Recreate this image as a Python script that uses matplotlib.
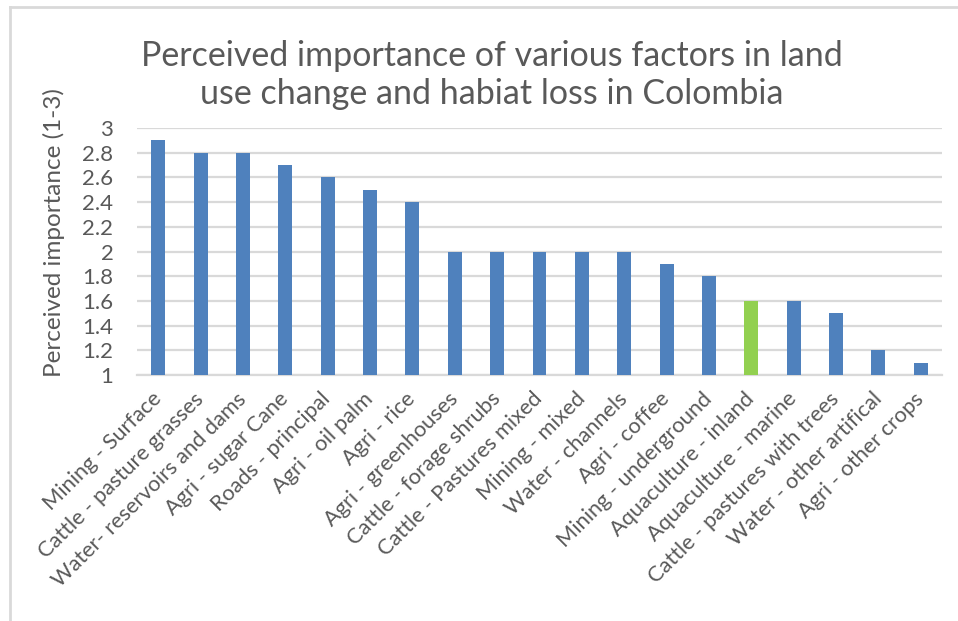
import matplotlib.pyplot as plt
import numpy as np
from matplotlib.lines import Line2D

plt.rcParams['font.family'] = ['Lato', 'DejaVu Sans']

factors = ['Mining - Surface', 'Cattle - pasture grasses', 'Water- reservoirs and dams',
           'Agri - sugar Cane', 'Roads - principal', 'Agri - oil palm', 'Agri - rice',
           'Agri - greenhouses', 'Cattle - forage shrubs', 'Cattle - Pastures mixed',
           'Mining - mixed', 'Water - channels', 'Agri - coffee', 'Mining - underground',
           'Aquaculture - inland', 'Aquaculture - marine', 'Cattle - pastures with trees',
           'Water - other artifical', 'Agri - other crops']
importance = [2.9, 2.8, 2.8, 2.7, 2.6, 2.5, 2.4, 2.0, 2.0, 2.0, 2.0, 2.0, 1.9, 1.8,
              1.6, 1.6, 1.5, 1.2, 1.1]
highlight = 'Aquaculture - inland'

txt = '#595959'
grid = '#D9D9D9'

fig = plt.figure(figsize=(9.58, 6.21), dpi=100)
ax = fig.add_axes([137/958, 1-375/621, (942-137)/958, (375-128)/621])

x = np.arange(len(factors))
colors = ['#92D050' if f == highlight else '#4F81BD' for f in factors]
ax.bar(x, importance, width=0.33, color=colors, zorder=3)

ax.set_xlim(-0.5, len(factors) - 0.5)
ax.set_ylim(1, 3)
ax.set_yticks(np.arange(1, 3.01, 0.2))
ax.set_yticklabels(['1', '1.2', '1.4', '1.6', '1.8', '2', '2.2', '2.4', '2.6', '2.8', '3'])
ax.yaxis.grid(True, color=grid, linewidth=1.6, zorder=0)
ax.set_xticks(x)
ax.set_xticklabels(factors, rotation=45, ha='right', va='center', rotation_mode='anchor')
for s in ['top', 'right', 'left']:
    ax.spines[s].set_visible(False)
ax.spines['bottom'].set_color(grid)
ax.spines['bottom'].set_linewidth(1.6)
ax.tick_params(axis='both', length=0, labelcolor=txt)
ax.tick_params(axis='x', pad=15, labelsize=15.7)
ax.tick_params(axis='y', pad=17, labelsize=16)
ax.set_ylabel('Perceived importance (1-3)', fontsize=17.5, color=txt)
ax.yaxis.set_label_coords(65/958, 1-233/621, transform=fig.transFigure)

fig.text(492/958, 1-75/621,
         'Perceived importance of various factors in land\nuse change and habiat loss in Colombia',
         ha='center', va='center', fontsize=24.5, color=txt, linespacing=1.2)

# chart border (only top and left visible in the crop)
fig.add_artist(Line2D([10/958, 1], [1-7/621, 1-7/621], color=grid, lw=2, transform=fig.transFigure))
fig.add_artist(Line2D([10/958, 10/958], [0, 1-7/621], color=grid, lw=2, transform=fig.transFigure))

fig.savefig('out.png', dpi=100)
